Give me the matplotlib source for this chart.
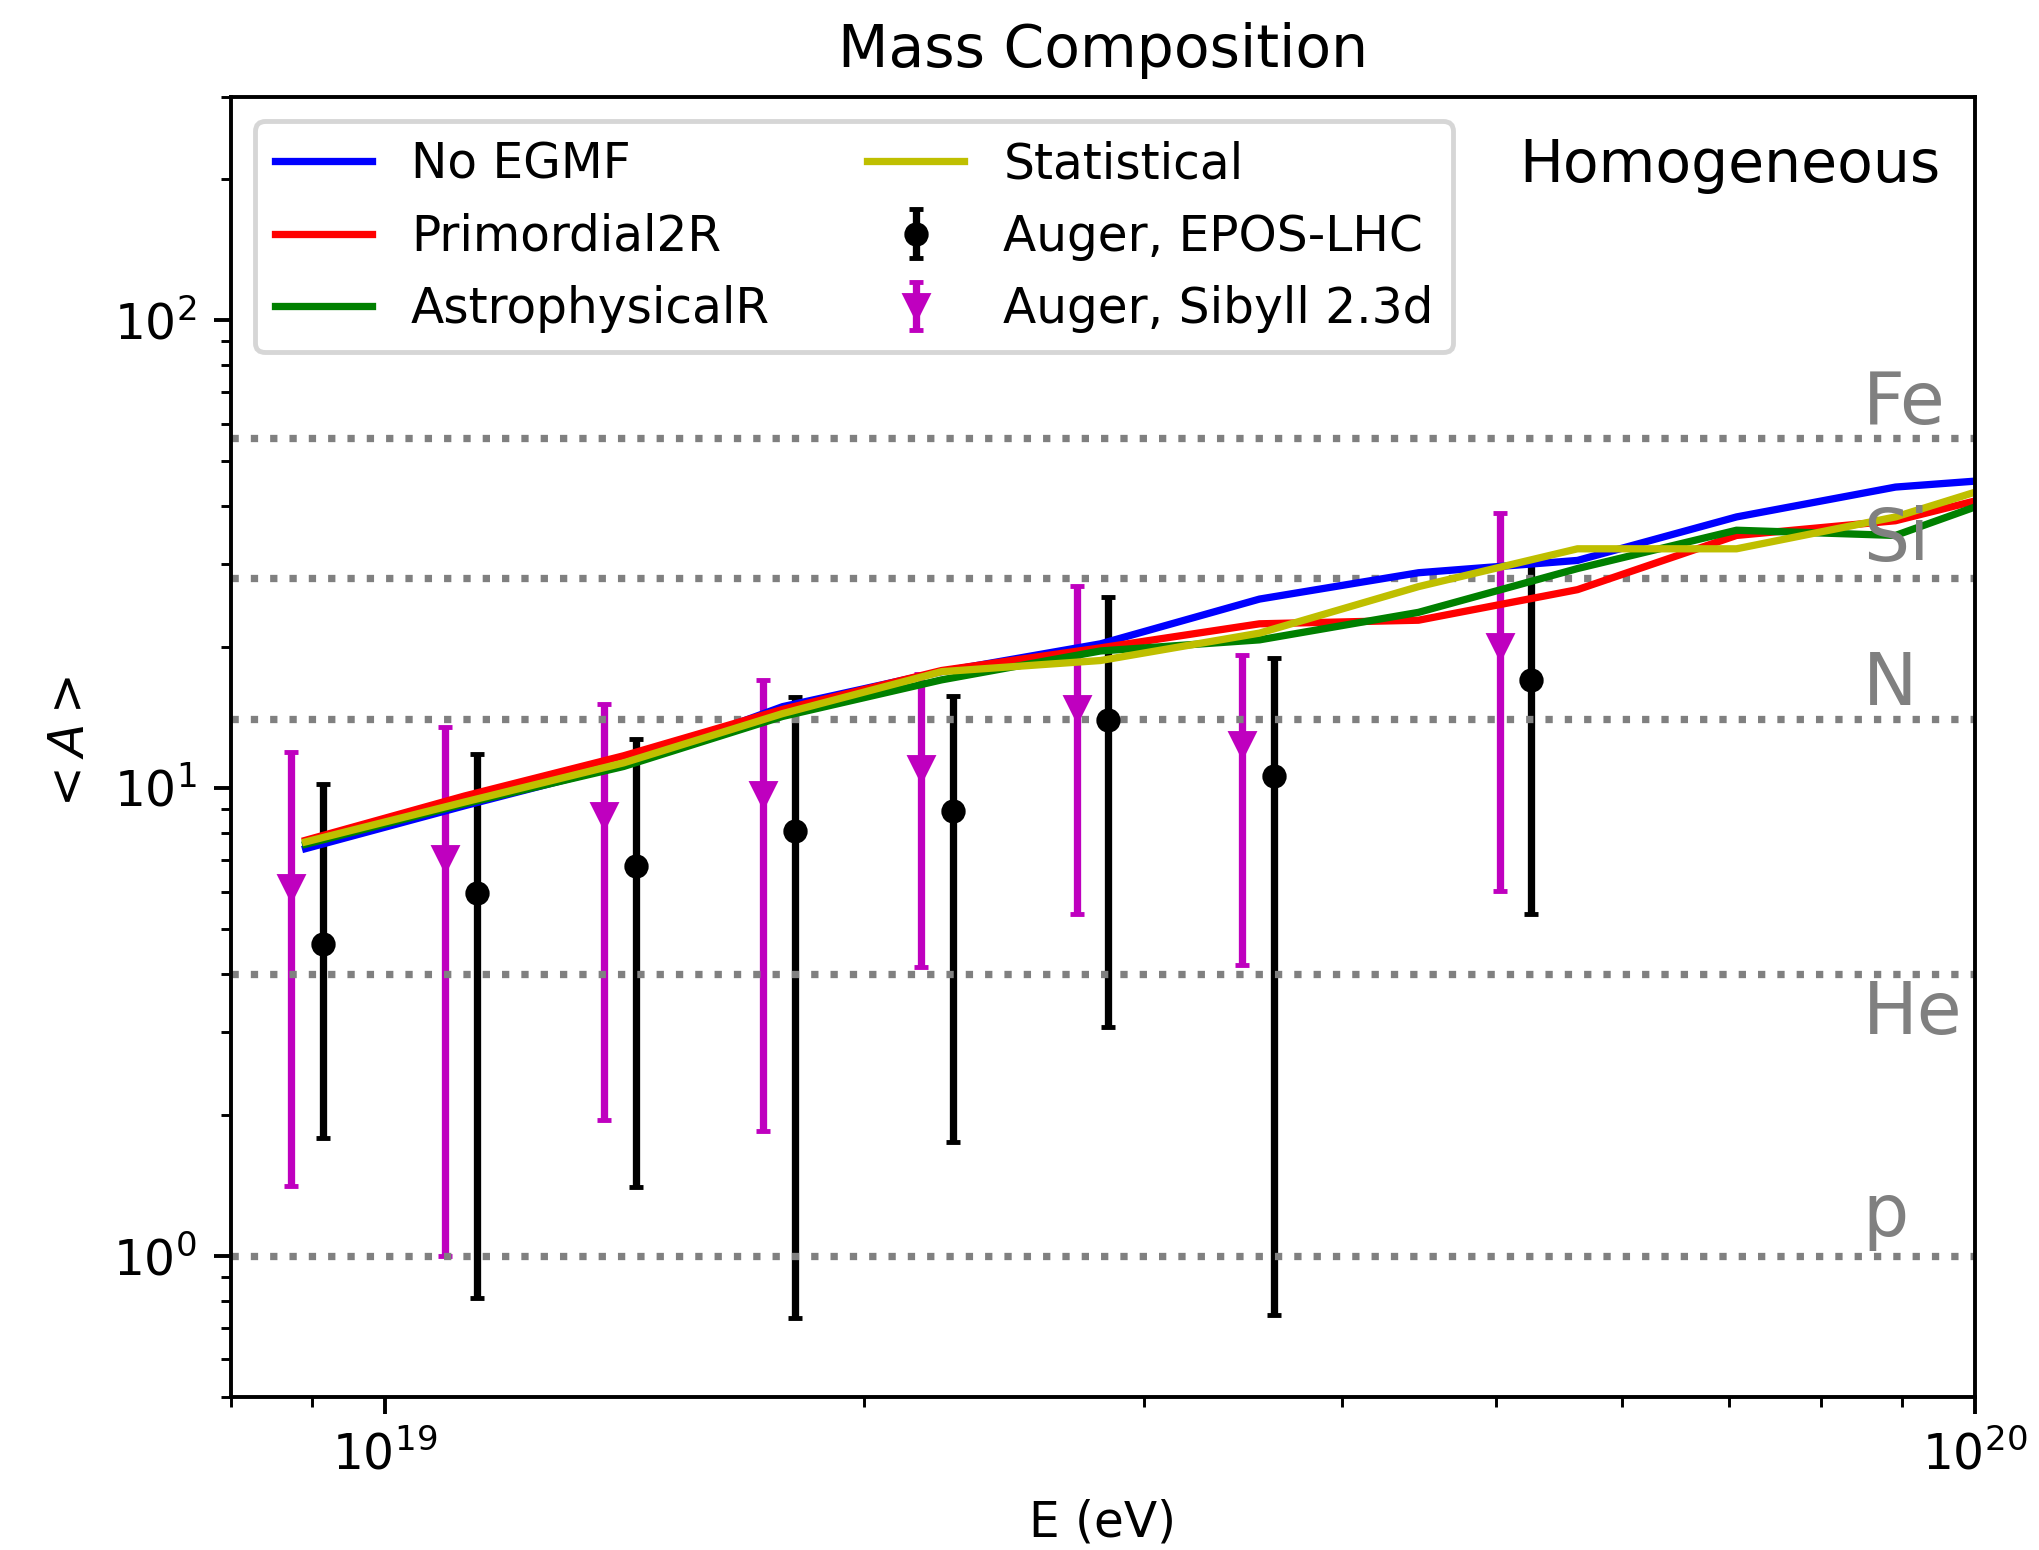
import numpy as np
import matplotlib
matplotlib.use("Agg")
import matplotlib.pyplot as plt

# ---- model curves (log10 E nodes) ----
lgE_model = [18.95, 19.05, 19.15, 19.25, 19.35, 19.45, 19.55, 19.65, 19.75, 19.85, 19.95, 20.0]
A_noegmf = [7.41, 9.15, 11.2, 14.9, 17.7, 20.3, 25.3, 28.8, 30.6, 37.9, 43.9, 45.2]
A_primordial = [7.72, 9.60, 11.7, 14.7, 17.8, 19.9, 22.4, 22.8, 26.5, 34.6, 37.2, 41.0]
A_astro = [7.57, 9.24, 11.1, 14.2, 17.0, 19.6, 20.7, 23.7, 29.4, 35.5, 34.6, 39.8]
A_stat = [7.66, 9.32, 11.3, 14.4, 17.7, 18.7, 21.4, 26.9, 32.4, 32.4, 37.9, 42.8]

# ---- Auger data ----
lgE_auger = [18.961, 19.058, 19.158, 19.258, 19.357, 19.455, 19.559, 19.721]
epos_A = [4.64, 5.95, 6.81, 8.07, 8.92, 13.95, 10.59, 17.03]
epos_hi = [10.18, 11.78, 12.69, 15.59, 15.67, 25.6, 18.97, 30.35]
epos_lo = [1.78, 0.812, 1.40, 0.735, 1.75, 3.08, 0.747, 5.37]

sib_A = [6.14, 7.08, 8.76, 9.71, 11.03, 14.82, 12.40, 20.09]
sib_hi = [11.9, 13.48, 15.09, 16.98, 17.54, 27.0, 19.26, 38.7]
sib_lo = [1.41, 1.0, 1.945, 1.85, 4.13, 5.37, 4.18, 6.01]
sib_shift = -0.02  # log10 horizontal offset of Sibyll points

# ---- reference nuclei ----
nuclei = ["Fe", "Si", "N", "He", "p"]
nuclei_A = [56, 28, 14, 4, 1]
nuclei_label_y = [60, 30.5, 15.0, 2.98, 1.1]

plt.rcParams['font.family'] = ['DejaVu Sans']

fig = plt.figure(figsize=(2039/350, 1550/350), dpi=350)
ax = fig.add_axes([0.11329, 0.09903, 0.85532, 0.83871])

E_model = 10 ** np.array(lgE_model)
E_auger = 10 ** np.array(lgE_auger)
E_sib = 10 ** (np.array(lgE_auger) + sib_shift)

epos_A_a = np.array(epos_A)
sib_A_a = np.array(sib_A)
eb1 = ax.errorbar(E_auger, epos_A_a,
                  yerr=[epos_A_a - np.array(epos_lo), np.array(epos_hi) - epos_A_a],
                  fmt='o', color='k', ms=4, capsize=1.5, label='Auger, EPOS-LHC')
eb2 = ax.errorbar(E_sib, sib_A_a,
                  yerr=[sib_A_a - np.array(sib_lo), np.array(sib_hi) - sib_A_a],
                  fmt='v', color='m', ms=4.5, capsize=1.5, label='Auger, Sibyll 2.3d')

for name, A, ly in zip(nuclei, nuclei_A, nuclei_label_y):
    ax.axhline(A, color='gray', ls=':', lw=1.5)
    ax.text(8.5e19, ly, name, color='gray', fontsize=15, va='baseline', ha='left')

l1, = ax.plot(E_model, A_noegmf, color='b', lw=1.5, label='No EGMF')
l2, = ax.plot(E_model, A_primordial, color='r', lw=1.5, label='Primordial2R')
l3, = ax.plot(E_model, A_astro, color='g', lw=1.5, label='AstrophysicalR')
l4, = ax.plot(E_model, A_stat, color='y', lw=1.5, label='Statistical')

ax.set_xscale('log')
ax.set_yscale('log')
ax.set_xlim(8e18, 1e20)
ax.set_ylim(0.5, 300)

ax.legend(handles=[l1, l2, l3, l4, eb1, eb2], ncol=2, loc='upper left')
ax.text(0.98, 0.969, 'Homogeneous', transform=ax.transAxes, ha='right', va='top', fontsize=12)

ax.set_title('Mass Composition')
ax.set_xlabel('E (eV)')
ax.set_ylabel(r'$<A>$')

fig.savefig('out.png', dpi=350)
